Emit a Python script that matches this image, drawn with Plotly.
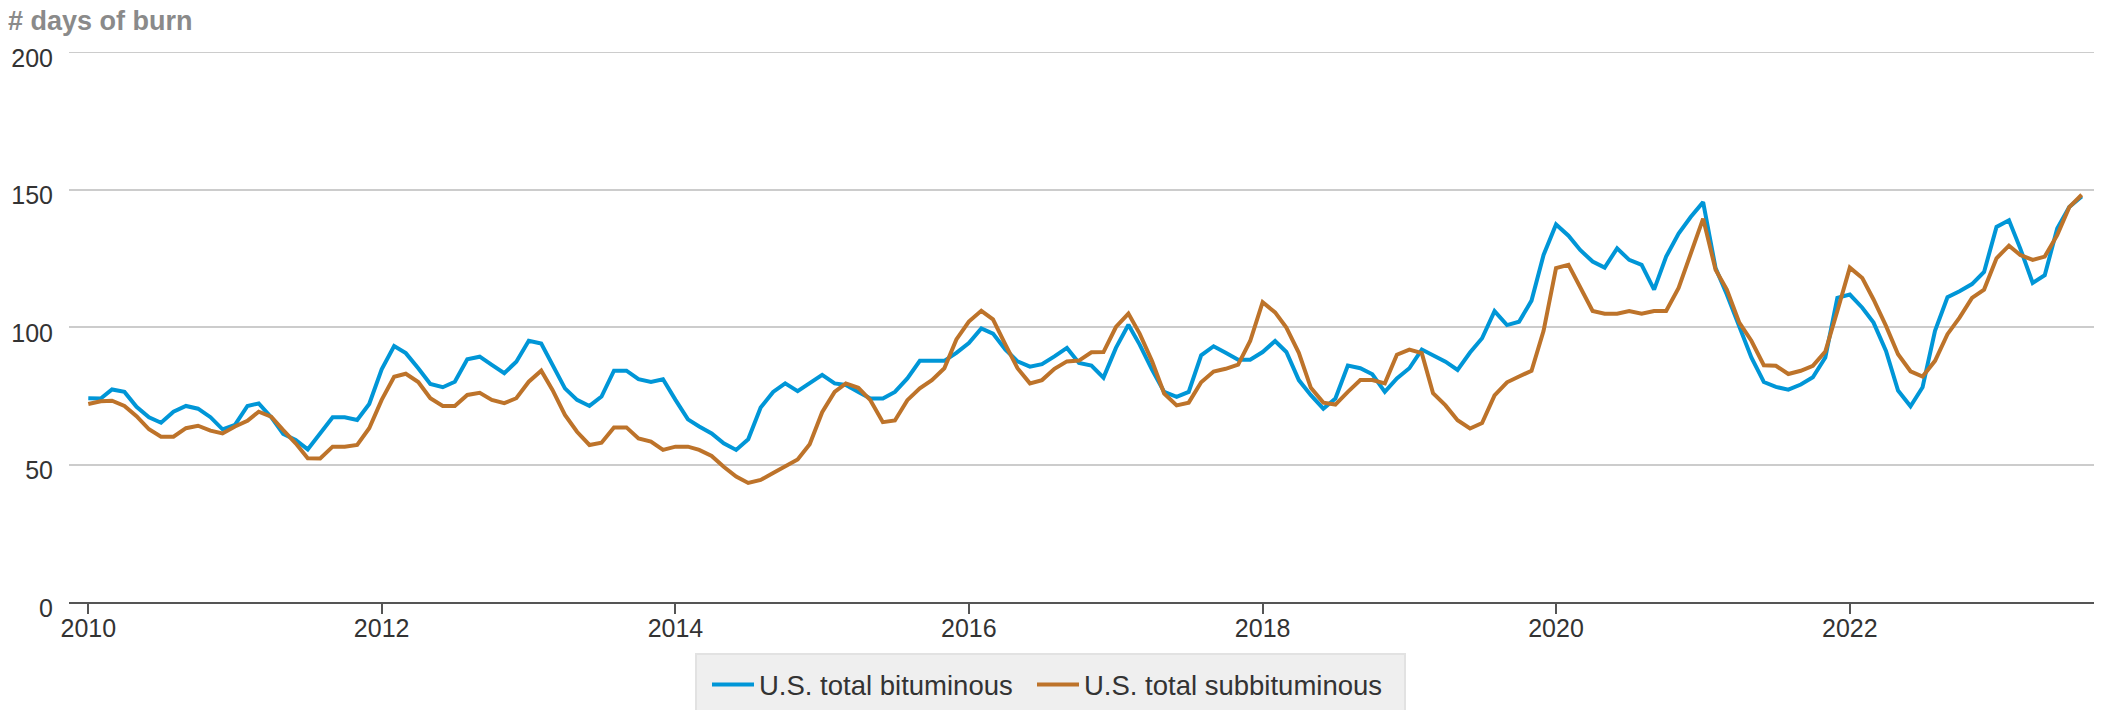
import pandas as pd
import plotly.graph_objects as go

# Monthly data, Jan 2010 .. Aug 2023
months = pd.date_range("2010-01-01", periods=164, freq="MS")

bituminous = [
    74.1, 74.0, 77.3, 76.4, 71.0, 67.2, 65.2, 69.2, 71.3, 70.3, 67.2, 62.8,
    64.4, 71.3, 72.2, 67.2, 61.1, 58.9, 55.5, 61.6, 67.2, 67.2, 66.2, 72.0,
    84.6, 93.1, 90.5, 85.0, 79.3, 78.1, 80.1, 88.3, 89.2, 86.2, 83.2, 87.4,
    95.0, 94.0, 86.2, 77.7, 73.5, 71.3, 74.7, 84.1, 84.1, 81.0, 80.0, 81.0,
    73.5, 66.4, 63.8, 61.3, 57.7, 55.3, 59.2, 70.7, 76.4, 79.5, 76.7, 79.5,
    82.6, 79.5, 78.9, 76.4, 74.0, 74.0, 76.4, 81.3, 87.7, 87.7, 87.7, 90.6,
    94.2, 99.5, 97.6, 91.8, 87.5, 85.6, 86.5, 89.3, 92.4, 86.9, 86.0, 81.6,
    92.4, 100.8, 93.6, 84.4, 76.4, 74.6, 76.4, 89.7, 93.0, 90.6, 88.1, 88.1,
    90.9, 94.9, 90.9, 80.7, 75.2, 70.3, 74.0, 86.0, 85.0, 82.8, 76.4, 81.3,
    85.0, 91.8, 89.7, 87.4, 84.4, 90.7, 95.9, 105.8, 100.7, 101.9, 109.6, 126.2,
    137.3, 133.2, 128.0, 123.8, 121.6, 128.6, 124.4, 122.6, 113.6, 125.6, 134.0, 140.0,
    145.4, 121.4, 111.8, 99.8, 88.9, 80.0, 78.2, 77.2, 79.1, 81.7, 88.9, 110.6,
    111.8, 107.0, 101.6, 91.3, 76.9, 71.2, 78.1, 98.6, 110.8, 113.0, 115.6, 120.0,
    136.4, 138.8, 128.6, 116.0, 118.8, 135.8, 143.6, 147.5,
]

subbituminous = [
    72.0, 73.0, 73.2, 71.3, 67.6, 62.8, 60.1, 60.1, 63.2, 64.1, 62.3, 61.3,
    63.8, 65.9, 69.2, 67.4, 62.5, 57.7, 52.3, 52.2, 56.5, 56.5, 57.1, 63.2,
    73.5, 81.9, 83.0, 80.0, 74.1, 71.3, 71.3, 75.3, 76.1, 73.5, 72.3, 74.1,
    80.1, 84.1, 77.1, 68.0, 61.9, 57.1, 57.9, 63.5, 63.5, 59.5, 58.3, 55.3,
    56.5, 56.5, 55.3, 53.1, 49.2, 45.6, 43.3, 44.4, 46.9, 49.4, 51.8, 57.4,
    69.0, 76.4, 79.5, 77.9, 73.4, 65.4, 66.0, 73.4, 77.7, 80.7, 85.0, 95.5,
    102.0, 105.9, 102.8, 93.6, 85.0, 79.5, 80.7, 84.8, 87.5, 87.8, 90.8, 90.9,
    100.0, 104.9, 97.6, 87.5, 75.8, 71.5, 72.5, 79.9, 83.8, 84.8, 86.3, 94.9,
    109.0, 105.3, 99.8, 90.6, 77.9, 72.5, 71.8, 76.4, 80.7, 80.7, 79.5, 89.9,
    91.8, 90.5, 75.9, 71.5, 66.1, 63.1, 65.1, 75.1, 79.9, 82.0, 84.1, 98.6,
    121.4, 122.6, 114.2, 105.8, 104.8, 104.8, 105.8, 104.8, 105.8, 105.8, 114.2, 126.2,
    139.4, 120.8, 113.6, 101.6, 95.0, 86.1, 85.9, 82.9, 84.1, 85.9, 91.1, 105.8,
    121.6, 117.8, 110.0, 100.4, 90.1, 83.9, 82.0, 87.7, 97.4, 103.4, 110.6, 113.6,
    125.0, 129.6, 126.2, 124.4, 125.6, 133.4, 143.6, 148.1,
]

series_names = ["U.S. total bituminous", "U.S. total subbituminous"]
series_colors = ["#0096d7", "#bd732a"]

x_tick_years = [2010, 2012, 2014, 2016, 2018, 2020, 2022]
y_ticks = [0, 50, 100, 150, 200]

FONT = "Liberation Sans, Arial, sans-serif"

# geometry helpers (page pixels of the reference -> paper coords)
PLOT_L, PLOT_W = 69, 2030
PLOT_B, PLOT_H = 602, 550


def px_x(p):
    return (p - PLOT_L) / PLOT_W


def px_y(p):
    return (PLOT_B - p) / PLOT_H


legend_ids = ["legend", "legend2"]

fig = go.Figure()
for name, vals, col, lg in zip(series_names, [bituminous, subbituminous],
                               series_colors, legend_ids):
    fig.add_trace(go.Scatter(
        x=months, y=vals, name=name, mode="lines",
        line=dict(color=col, width=4), legend=lg,
    ))

# top gridline (plotly skips the grid line sitting on the plot edge)
fig.add_shape(type="line", xref="paper", yref="y", x0=0, x1=1, y0=200, y1=200,
              line=dict(color="#cccccc", width=2), layer="below")

# legend box background
fig.add_shape(type="rect", xref="paper", yref="paper",
              x0=px_x(696), x1=px_x(1405), y0=px_y(654), y1=px_y(730),
              fillcolor="#efefef", line=dict(color="#e2e2e2", width=2),
              layer="below")

legend_common = dict(
    orientation="h", xanchor="left", y=px_y(660), yanchor="top",
    bgcolor="rgba(0,0,0,0)", borderwidth=0,
    font=dict(family=FONT, size=27.5, color="#333333"),
    itemwidth=42,
)

# page body has an 8px margin, so the figure is 8px smaller on each axis
fig.update_layout(
    width=2094, height=702,
    margin=dict(l=61, r=3, t=44, b=108, autoexpand=False),
    paper_bgcolor="white", plot_bgcolor="rgba(0,0,0,0)",
    font=dict(family=FONT, color="#333333", size=25),
    title=dict(
        text="<b># days of burn</b>",
        font=dict(family=FONT, size=27, color="#8a8a8a"),
        x=0, xanchor="left", xref="container",
        y=1 - 3 / 702, yanchor="top", yref="container",
        pad=dict(t=0, l=0, b=0, r=0),
    ),
    showlegend=True,
    legend=dict(x=px_x(707), **legend_common),
    legend2=dict(x=px_x(1032), **legend_common),
    xaxis=dict(
        type="date",
        range=["2009-11-14", "2023-09-13"],
        tickvals=[f"{y}-01-01" for y in x_tick_years],
        ticktext=[str(y) for y in x_tick_years],
        ticks="outside", ticklen=10, tickwidth=2, tickcolor="#555555",
        showline=True, linecolor="#555555", linewidth=2,
        showgrid=False, zeroline=False,
        ticklabelstandoff=-7,
        tickfont=dict(family=FONT, size=25, color="#333333"),
    ),
    yaxis=dict(
        range=[0, 200],
        tickvals=y_ticks,
        showgrid=True, gridcolor="#cccccc", gridwidth=2,
        zeroline=False, showline=False,
        ticks="", ticklabelstandoff=15, ticklabelshift=6,
        tickfont=dict(family=FONT, size=25, color="#333333"),
    ),
)

fig.write_html("out.html")
